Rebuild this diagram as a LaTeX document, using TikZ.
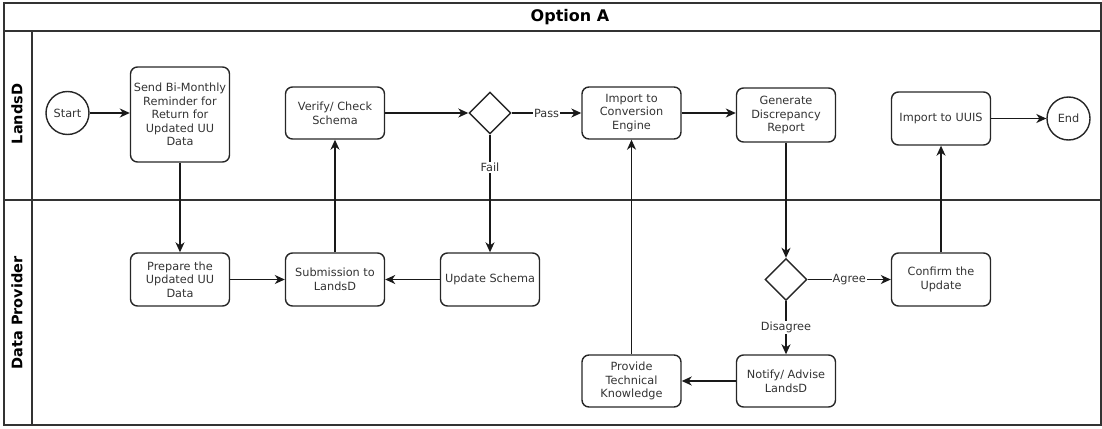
\documentclass[tikz,border=0pt]{standalone}
\usepackage{fontspec}
\setmainfont{DejaVu Sans}
\usetikzlibrary{arrows.meta,shapes.geometric}
\begin{document}
\begin{tikzpicture}[x=1pt,y=-1pt,
  txt/.style={font=\fontsize{11.3}{13.6}\selectfont, text=black!80},
  box/.style={txt, draw=black!85, line width=1.4pt, rounded corners=7pt, minimum width=99pt, minimum height=53pt, align=center, inner sep=1pt},
  term/.style={txt, draw=black!85, line width=1.4pt, circle, minimum size=43pt, inner sep=0pt},
  gate/.style={draw=black!85, line width=1.4pt, diamond, minimum width=42pt, minimum height=42pt, inner sep=0pt},
  flow/.style={draw=black!90, line width=1.4pt, -{Stealth[length=10pt,width=9pt,inset=3pt]}},
  lbl/.style={txt, fill=white, inner sep=1pt},
  lane/.style={font=\fontsize{14.5}{16}\selectfont\bfseries, rotate=90},
  frame/.style={draw=black!80, line width=1.6pt}]
\useasboundingbox (0,0) rectangle (1102,428);
% pool frame
\draw[frame] (4,3) rectangle (1101,425);
\draw[frame] (4,31) -- (1101,31);
\draw[frame] (4,200) -- (1101,200);
\draw[frame] (32,31) -- (32,425);
\node[font=\fontsize{16}{19}\selectfont\bfseries] (title) at (570,17) {Option A};
\node[lane] (laneA) at (17,114) {LandsD};
\node[lane] (laneB) at (17,313) {Data Provider};
% LandsD lane
\node[term] (start) at (67.5,113) {Start};
\node[box, minimum height=95pt] (send) at (180,114.5) {Send Bi-Monthly\\Reminder for\\Return for\\Updated UU\\Data};
\node[box, minimum height=52pt] (verify) at (335,113) {Verify/ Check\\Schema};
\node[gate] (d1) at (490,113) {};
\node[box, minimum height=52pt] (conv) at (631.5,113) {Import to\\Conversion\\Engine};
\node[box, minimum height=54pt] (gen) at (786,115) {Generate\\Discrepancy\\Report};
\node[box] (uuis) at (941,118.5) {Import to UUIS};
\node[term] (end) at (1068.5,118.5) {End};
% Data Provider lane
\node[box] (prep) at (180,279.5) {Prepare the\\Updated UU\\Data};
\node[box] (sub) at (335,279.5) {Submission to\\LandsD};
\node[box] (upd) at (490,279.5) {Update Schema};
\node[gate] (d2) at (786,279.5) {};
\node[box] (conf) at (941,279.5) {Confirm the\\Update};
\node[box, minimum height=52pt] (noti) at (786,381) {Notify/ Advise\\LandsD};
\node[box, minimum height=52pt] (prov) at (631.5,381) {Provide\\Technical\\Knowledge};
% connectors
\draw[flow] (start) -- (start -| send.west);
\draw[flow] (send) -- (prep);
\draw[flow] (prep) -- (sub);
\draw[flow] (sub) -- (verify);
\draw[flow] (verify) -- (d1);
\draw[flow] (d1) -- node[lbl] {Pass} (conv);
\draw[flow] (d1) -- node[lbl, pos=0.28] {Fail} (upd);
\draw[flow] (upd) -- (sub);
\draw[flow] (prov) -- (conv);
\draw[flow] (conv) -- (conv -| gen.west);
\draw[flow] (gen) -- (d2);
\draw[flow] (d2) -- node[lbl] {Agree} (conf);
\draw[flow] (d2) -- node[lbl] {Disagree} (noti);
\draw[flow] (noti) -- (prov);
\draw[flow] (conf) -- (conf.north |- uuis.south);
\draw[flow] (uuis) -- (end);
\end{tikzpicture}
\end{document}
